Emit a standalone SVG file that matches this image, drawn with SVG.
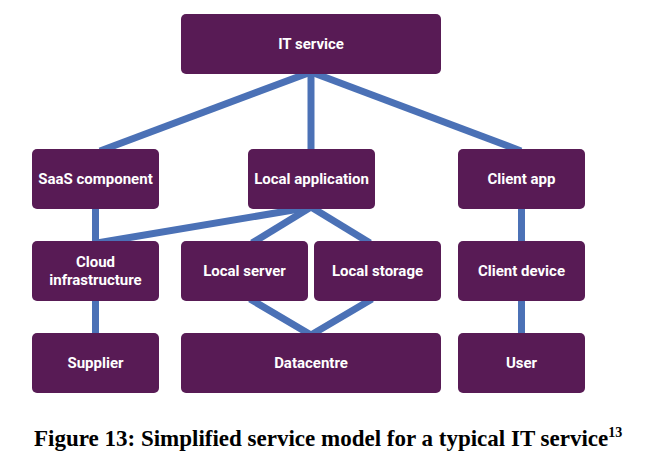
<svg xmlns="http://www.w3.org/2000/svg" width="650" height="459" viewBox="0 0 650 459">
<style>
.node rect{fill:#581b55;}
.node text{fill:#ffffff;font-family:Roboto,"Liberation Sans",sans-serif;font-weight:700;font-size:15px;text-anchor:middle;}
.edges line,.edges polyline{stroke:#4b71b6;stroke-width:7;fill:none;stroke-linecap:butt;}
.caption{font-family:"Liberation Serif","Times New Roman",serif;font-weight:700;fill:#000;}
</style>
<rect width="650" height="459" fill="#ffffff"/>
<g id="connectors" class="edges">
<line x1="311" y1="72" x2="100" y2="151"/>
<line x1="311" y1="72" x2="311" y2="151"/>
<line x1="311" y1="72" x2="521" y2="151"/>
<line x1="95.5" y1="207" x2="95.5" y2="243"/>
<line x1="521.5" y1="207" x2="521.5" y2="243"/>
<line x1="95.5" y1="299" x2="95.5" y2="335"/>
<line x1="521.5" y1="299" x2="521.5" y2="335"/>
<line x1="311" y1="207" x2="97" y2="243"/>
<line x1="311" y1="207" x2="252" y2="243"/>
<line x1="311" y1="207" x2="370" y2="243"/>
<polyline points="250,299 311,335 372,299"/>
</g>
<g id="it-service" class="node"><rect x="181" y="14" width="260" height="60" rx="5"/><text x="311" y="49">IT service</text></g>
<g id="saas-component" class="node"><rect x="32" y="149" width="127" height="60" rx="5"/><text x="95.5" y="184">SaaS component</text></g>
<g id="local-application" class="node"><rect x="248" y="149" width="127" height="60" rx="5"/><text x="311.5" y="184">Local application</text></g>
<g id="client-app" class="node"><rect x="458" y="149" width="127" height="60" rx="5"/><text x="521.5" y="184">Client app</text></g>
<g id="cloud-infrastructure" class="node"><rect x="32" y="241" width="127" height="60" rx="5"/><text x="95.5" y="267">Cloud</text><text x="95.5" y="285">infrastructure</text></g>
<g id="local-server" class="node"><rect x="181" y="241" width="127" height="60" rx="5"/><text x="244.5" y="276">Local server</text></g>
<g id="local-storage" class="node"><rect x="314" y="241" width="127" height="60" rx="5"/><text x="377.5" y="276">Local storage</text></g>
<g id="client-device" class="node"><rect x="458" y="241" width="127" height="60" rx="5"/><text x="521.5" y="276">Client device</text></g>
<g id="supplier" class="node"><rect x="32" y="333" width="127" height="60" rx="5"/><text x="95.5" y="368">Supplier</text></g>
<g id="datacentre" class="node"><rect x="181" y="333" width="260" height="60" rx="5"/><text x="311" y="368">Datacentre</text></g>
<g id="user" class="node"><rect x="458" y="333" width="127" height="60" rx="5"/><text x="521.5" y="368">User</text></g>
<text class="caption" x="34" y="446" font-size="23">Figure 13: Simplified service model for a typical IT service<tspan font-size="14" dy="-9">13</tspan></text>
</svg>
